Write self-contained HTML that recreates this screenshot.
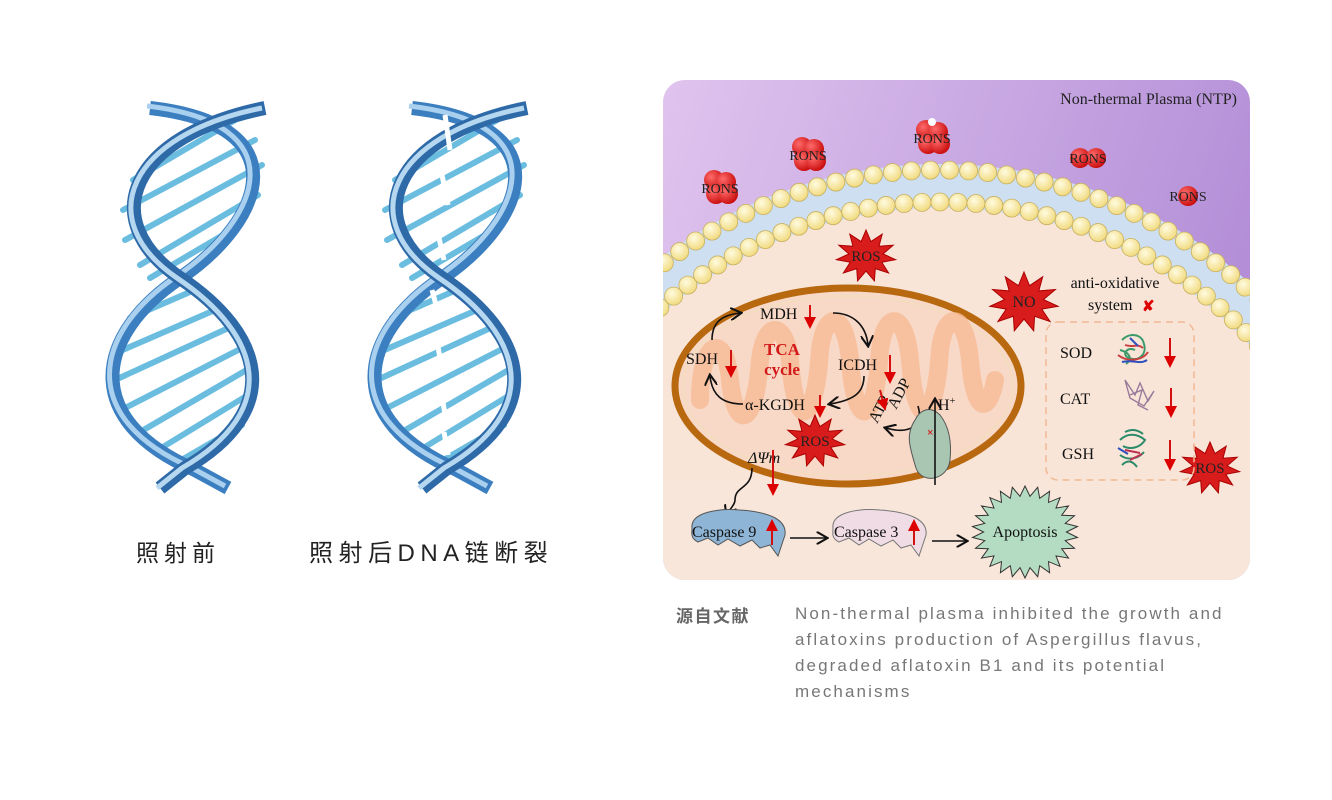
<!DOCTYPE html>
<html><head><meta charset="utf-8">
<style>
html,body{margin:0;padding:0;background:#fff;width:1332px;height:800px;overflow:hidden;position:relative}
.cap{position:absolute;font-family:"Liberation Sans","Noto Sans CJK SC",sans-serif;white-space:nowrap}
</style></head><body>
<svg id="s" width="1332" height="800" viewBox="0 0 1332 800" xmlns="http://www.w3.org/2000/svg" style="position:absolute;left:0;top:0">
<defs>
<linearGradient id="pur" x1="0" y1="0" x2="1" y2="0.3">
<stop offset="0" stop-color="#e0c4ee"/><stop offset="1" stop-color="#b48fd8"/></linearGradient>
<clipPath id="pc"><rect x="663" y="80" width="587" height="500" rx="22"/></clipPath>
<radialGradient id="red" cx="0.35" cy="0.35" r="0.7"><stop offset="0" stop-color="#ff6a6a"/><stop offset="1" stop-color="#c80a0a"/></radialGradient>
<radialGradient id="yel" cx="0.4" cy="0.35" r="0.7"><stop offset="0" stop-color="#fffbe0"/><stop offset="1" stop-color="#f0d878"/></radialGradient>
<marker id="ah" markerWidth="8" markerHeight="8" refX="6" refY="4" orient="auto"><path d="M0,0 L7,4 L0,8" fill="none" stroke="#111" stroke-width="1.3"/></marker>
<marker id="rh" markerWidth="6" markerHeight="6" refX="3" refY="3" orient="auto"><path d="M0,0 L6,3 L0,6 Z" fill="#d00"/></marker>
</defs>

<g id="dna">
<g stroke-linecap="round" stroke="#6bbde0" stroke-width="6">
<line x1="133" y1="180" x2="235" y2="120"/>
<line x1="123" y1="210" x2="255" y2="140"/>
<line x1="125" y1="240" x2="262" y2="165"/>
<line x1="140" y1="265" x2="258" y2="195"/>
<line x1="150" y1="278" x2="240" y2="225"/>
<line x1="130" y1="318" x2="190" y2="292"/>
<line x1="118" y1="352" x2="215" y2="310"/>
<line x1="115" y1="380" x2="235" y2="325"/>
<line x1="125" y1="408" x2="248" y2="345"/>
<line x1="140" y1="432" x2="250" y2="368"/>
<line x1="158" y1="450" x2="248" y2="395"/>
<line x1="178" y1="462" x2="242" y2="425"/>
</g>
<path d="M150,108 C300,125 265,220 180,278 C95,335 80,420 195,470 L228,488" fill="none" stroke="#3c7fc0" stroke-width="14"/>
<path d="M150,108 C300,125 265,220 180,278 C95,335 80,420 195,470 L228,488" fill="none" stroke="#a9d0ee" stroke-width="5" transform="translate(-3,-2)"/>
<path d="M265,108 C130,135 95,220 180,278 C265,335 285,410 185,468 L160,488" fill="none" stroke="#2f6aa8" stroke-width="14"/>
<path d="M265,108 C130,135 95,220 180,278 C265,335 285,410 185,468 L160,488" fill="none" stroke="#b6d7f0" stroke-width="5" transform="translate(-3,0)"/>
</g>
<use href="#dna" x="262" y="0"/>
<g stroke="#fff" stroke-width="5">
<line x1="445" y1="115" x2="450" y2="150"/><line x1="440" y1="165" x2="448" y2="205"/>
<line x1="436" y1="225" x2="444" y2="260"/><line x1="432" y1="290" x2="440" y2="320"/>
<line x1="436" y1="335" x2="442" y2="370"/><line x1="440" y1="385" x2="446" y2="420"/>
<line x1="444" y1="432" x2="448" y2="455"/>
</g>

<g clip-path="url(#pc)">
<rect x="663" y="80" width="587" height="500" fill="url(#pur)"/>
<circle cx="940" cy="626" r="462" fill="#cddff0"/>
<circle cx="940" cy="626" r="418" fill="#f8e5d8"/>
<rect x="663" y="480" width="587" height="100" fill="#f8e8dc" opacity="0.5"/>
<g id="mem"></g>
</g>
<text x="1237" y="104" text-anchor="end" font-family="Liberation Serif,serif" font-size="16" fill="#222">Non-thermal Plasma (NTP)</text>

<g id="rons" font-family="Liberation Serif,serif" font-size="14" fill="#222" text-anchor="middle"></g>

<ellipse cx="848" cy="386" rx="173" ry="98" fill="#f8d8c6" stroke="#b8680e" stroke-width="7"/>
<ellipse cx="848" cy="386" rx="165" ry="90" fill="none" stroke="#f4dcc0" stroke-width="2"/>
<g fill="none" stroke="#f6bc96" stroke-width="18" opacity="0.8" stroke-linecap="round">
<path d="M700,400 C700,340 725,330 730,380 C735,430 755,430 760,360 C765,320 785,320 790,360 C795,430 815,430 820,350 C825,310 845,310 850,360 C855,430 875,430 880,350 C885,310 905,310 910,360 C915,430 935,430 940,350 C945,310 965,310 970,360 C975,420 990,410 995,380"/>
</g>
<g font-family="Liberation Serif,serif" font-size="16" fill="#111">
<text x="760" y="319">MDH</text>
<text x="686" y="364">SDH</text>
<text x="838" y="370">ICDH</text>
<text x="745" y="410">α-KGDH</text>
<text x="938" y="410">H<tspan font-size="10" dy="-6">+</tspan></text>
<text x="920" y="459">V</text>
<text x="748" y="463" font-style="italic">ΔΨm</text>
<text x="877" y="424" transform="rotate(-62 877 424)">ATP</text>
<text x="896" y="410" transform="rotate(-62 896 410)">ADP</text>
</g>
<g font-family="Liberation Serif,serif" font-size="17" font-weight="bold" fill="#d21a1a" text-anchor="middle">
<text x="782" y="355">TCA</text><text x="782" y="375">cycle</text></g>
<g fill="none" stroke="#111" stroke-width="1.6">
<path d="M712,340 C712,322 722,315 740,313" marker-end="url(#ah)"/>
<path d="M833,313 C853,313 866,325 868,345" marker-end="url(#ah)"/>
<path d="M864,376 C864,392 855,400 830,404" marker-end="url(#ah)"/>
<path d="M743,404 C722,404 712,395 710,376" marker-end="url(#ah)"/>
<path d="M918,406 C924,425 910,435 886,428" marker-end="url(#ah)"/>
<path d="M752,468 C752,490 735,485 735,500 C735,505 730,508 727,515" marker-end="url(#ah)"/>
</g>
<path d="M915,420 C905,435 910,448 916,468 C922,485 948,480 950,460 C952,440 948,425 940,415 C930,405 920,410 915,420Z" fill="#a8c6b2" stroke="#555" stroke-width="1"/>
<line x1="935" y1="485" x2="935" y2="400" stroke="#111" stroke-width="1.6" marker-end="url(#ah)"/>
<text x="927" y="436" font-size="11" fill="#d00" font-family="Liberation Sans,sans-serif">×</text>
<g stroke="#d41010" stroke-width="2" marker-end="url(#rh)">
<line x1="810" y1="305" x2="810" y2="323"/>
<line x1="731" y1="350" x2="731" y2="372"/>
<line x1="890" y1="355" x2="890" y2="378"/>
<line x1="820" y1="395" x2="820" y2="412"/>
<line x1="880" y1="390" x2="884" y2="405"/>
<line x1="773" y1="450" x2="773" y2="490"/>
<line x1="1170" y1="338" x2="1170" y2="362"/>
<line x1="1171" y1="388" x2="1171" y2="412"/>
<line x1="1170" y1="440" x2="1170" y2="465"/>
</g>
<g id="stars" font-family="Liberation Serif,serif" fill="#222" text-anchor="middle"></g>
<g font-family="Liberation Serif,serif" font-size="16" fill="#111">
<text x="1115" y="288" text-anchor="middle">anti-oxidative</text>
<text x="1088" y="310">system</text>
<text x="1142" y="311" fill="#d00" font-weight="bold" font-family="Liberation Sans,sans-serif" font-size="15">✘</text>
<text x="1060" y="358">SOD</text><text x="1060" y="404">CAT</text><text x="1062" y="459">GSH</text>
</g>
<rect x="1046" y="322" width="148" height="158" rx="12" fill="none" stroke="#f2b894" stroke-width="1.5" stroke-dasharray="7 5"/>
<g stroke-width="2" fill="none">
<path d="M1122,340 c8,-8 20,-6 22,4 c3,10 -5,18 -15,14 c-8,-3 -2,-12 6,-8 M1120,350 c8,2 14,8 6,14" stroke="#3a9a6a"/>
<path d="M1118,355 c10,8 25,5 30,-3 M1125,345 c8,3 12,-2 18,3" stroke="#c84040"/>
<path d="M1122,362 c10,-3 18,3 25,-2 M1130,338 l8,8" stroke="#3050c0"/>
<path d="M1125,380 l10,15 l5,-12 l8,18 l6,-10 l-10,15 l-14,-8 z M1130,395 l12,-5 l-4,15 l10,5" stroke="#9a7a9a" stroke-width="1.4"/>
<path d="M1120,440 c8,-8 18,-6 25,0 c-5,8 -15,10 -22,6 M1120,455 c8,6 18,4 24,-3 M1122,465 c5,-5 10,-5 15,2 M1125,432 c6,-3 12,-3 18,2" stroke="#2a8a6a"/>
<path d="M1125,450 l15,3 M1130,460 l12,-6" stroke="#c03050"/>
<path d="M1118,448 l10,6" stroke="#3050c0"/>
</g>
<path d="M692,528 C690,512 720,508 740,510 C770,512 787,520 785,535 L778,556 L770,545 L760,548 L752,540 L740,546 L728,539 L718,545 L708,538 L698,542 C690,538 692,533 692,528Z" fill="#8fb5d6" stroke="#555" stroke-width="1"/>
<path d="M833,528 C831,512 860,508 880,510 C910,512 928,520 926,535 L919,556 L911,545 L901,548 L893,540 L881,546 L869,539 L859,545 L849,538 L839,542 C831,538 833,533 833,528Z" fill="#f0dce4" stroke="#777" stroke-width="1"/>
<g font-family="Liberation Serif,serif" font-size="16" fill="#111">
<text x="692" y="537">Caspase 9</text><text x="834" y="537">Caspase 3</text>
<text x="1025" y="537" text-anchor="middle">Apoptosis</text></g>
<g stroke="#d41010" stroke-width="2" marker-end="url(#rh)">
<line x1="772" y1="545" x2="772" y2="525"/><line x1="914" y1="545" x2="914" y2="525"/></g>
<g stroke="#111" stroke-width="1.6" marker-end="url(#ah)">
<line x1="790" y1="538" x2="826" y2="538"/><line x1="932" y1="541" x2="966" y2="541"/></g>
</svg>

<div class="cap" style="left:136px;top:534px;font-size:23px;color:#222;letter-spacing:5px">照射前</div>
<div class="cap" style="left:309px;top:533px;font-size:24px;color:#222;letter-spacing:5.5px">照射后DNA链断裂</div>
<div class="cap" style="left:676px;top:602px;font-size:17px;color:#666;font-weight:bold;letter-spacing:1.5px">源自文献</div>
<div class="cap" style="left:795px;top:601px;font-size:17px;line-height:26px;color:#777;letter-spacing:2.1px">Non-thermal plasma inhibited the growth and<br>aflatoxins production of Aspergillus flavus,<br>degraded aflatoxin B1 and its potential<br>mechanisms</div>

<script>
var NS="http://www.w3.org/2000/svg";
function el(t,a,p){var e=document.createElementNS(NS,t);for(var k in a)e.setAttribute(k,a[k]);p.appendChild(e);return e;}
var mem=document.getElementById("mem");
[[456,19],[424,18]].forEach(function(r){
  var R=r[0],n=Math.round(Math.PI*R/r[1]);
  for(var i=0;i<=n;i++){var a=Math.PI+i*Math.PI/n;var x=940+R*Math.cos(a),y=626+R*Math.sin(a);
   if(x<650||x>1262)continue;
   el("circle",{cx:x,cy:y,r:9,fill:"url(#yel)",stroke:"#c8b060","stroke-width":0.8},mem);}
});
var rons=document.getElementById("rons");
[[720,188],[808,155],[932,138],[1088,158],[1188,196]].forEach(function(p,i){
  var g=el("g",{},rons);
  var offs=i==4?[[0,0]]:(i==3?[[-8,0],[8,0]]:[[-6,-8],[6,-6],[-4,6],[8,6]]);
  offs.forEach(function(o){el("circle",{cx:p[0]+o[0],cy:p[1]+o[1],r:10,fill:"url(#red)"},g);});
  if(i==2)el("circle",{cx:p[0],cy:p[1]-16,r:4,fill:"#fff"},g);
  var t=el("text",{x:p[0],y:p[1]+5},g);t.textContent="RONS";
});
var stars=document.getElementById("stars");
function star(cx,cy,ro,ri,n,fill,stroke,label,fs){
  var pts=[];for(var i=0;i<2*n;i++){var r=i%2?ri:ro;var a=i*Math.PI/n-Math.PI/2;pts.push((cx+r*Math.cos(a)*1.15).toFixed(1)+","+(cy+r*Math.sin(a)).toFixed(1));}
  el("polygon",{points:pts.join(" "),fill:fill,stroke:stroke,"stroke-width":1},stars);
  if(label){var t=el("text",{x:cx,y:cy+5,"font-size":fs},stars);t.textContent=label;}
}
star(866,256,26,15,11,"#d81c1c","#a00","ROS",15);
star(1024,302,30,17,11,"#d81c1c","#a00","NO",16);
star(815,441,26,15,11,"#d81c1c","#a00","ROS",15);
star(1210,468,26,15,11,"#d81c1c","#a00","ROS",15);
star(1025,532,46,36,26,"#b4dcc2","#333","",1);
</script>
</body></html>
